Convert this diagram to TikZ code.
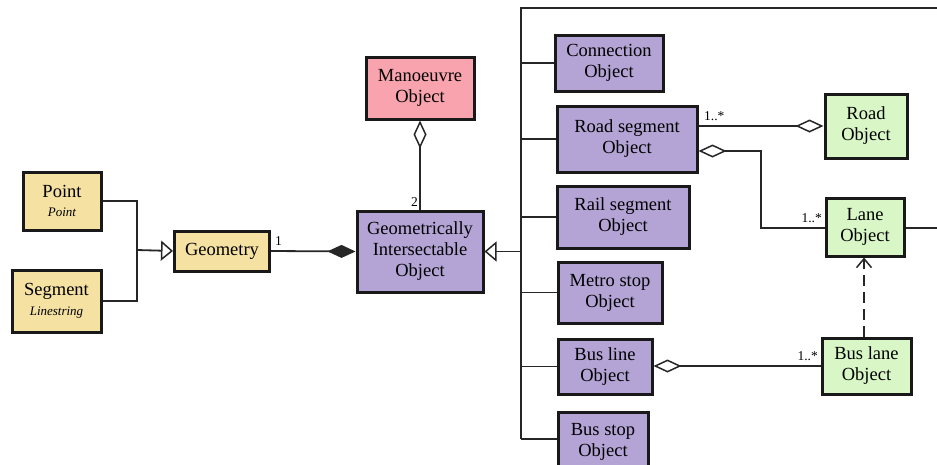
\documentclass[tikz,border=0pt]{standalone}
\usepackage{fontspec}
\setmainfont{Liberation Serif}
\usetikzlibrary{arrows.meta}
\definecolor{cyel}{HTML}{F5E1A2}
\definecolor{cpur}{HTML}{B3A4D5}
\definecolor{cpink}{HTML}{F8A3AD}
\definecolor{cgrn}{HTML}{D9F7C6}
\begin{document}
\begin{tikzpicture}[x=1pt,y=-1pt,
  box/.style={draw=black!90,line width=3pt,align=center,inner sep=0pt,
    font=\fontsize{18.5}{21}\selectfont},
  conn/.style={line width=1.8pt,draw=black!85},
  lbl/.style={font=\fontsize{13.5}{15}\selectfont,inner sep=0pt},
  odia/.style={{Diamond[open,length=28pt,width=13pt,line width=1.5pt]}-},
  fdia/.style={-{Diamond[length=28pt,width=13pt]}},
  otri/.style={-{Triangle[open,length=12pt,width=20pt,line width=1.5pt]}}]
\useasboundingbox (0,0) rectangle (937,464);
% nodes
\node[box,fill=cyel,minimum width=78pt,minimum height=58pt] (point) at (62,201)
  {Point\\[-2pt]{\fontsize{13}{15}\selectfont\itshape Point}};
\node[box,fill=cyel,minimum width=89pt,minimum height=62pt] (segment) at (56.5,301)
  {Segment\\[-1pt]{\fontsize{13}{15}\selectfont\itshape Linestring}};
\node[box,fill=cyel,minimum width=95pt,minimum height=40pt] (geometry) at (222,251) {Geometry};
\node[box,fill=cpur,minimum width=126pt,minimum height=81pt] (gio) at (420,251.5)
  {Geometrically\\Intersectable\\Object};
\node[box,fill=cpink,minimum width=108pt,minimum height=62pt] (man) at (420,88)
  {Manoeuvre\\Object};
\node[box,fill=cpur,minimum width=108pt,minimum height=56pt] (conn) at (609,63)
  {Connection\\Object};
\node[box,fill=cpur,minimum width=140pt,minimum height=66pt] (roadseg) at (627,139)
  {Road segment\\Object};
\node[box,fill=cpur,minimum width=132pt,minimum height=62pt] (railseg) at (623,217)
  {Rail segment\\Object};
\node[box,fill=cpur,minimum width=104pt,minimum height=61pt] (metro) at (610,292.5)
  {Metro stop\\Object};
\node[box,fill=cpur,minimum width=94pt,minimum height=55pt] (busline) at (605,366.5)
  {Bus line\\Object};
\node[box,fill=cpur,minimum width=90pt,minimum height=58pt,anchor=north] (busstop) at (603,411)
  {Bus stop\\Object};
\node[box,fill=cgrn,minimum width=82pt,minimum height=64pt] (road) at (866,126)
  {Road\\Object};
\node[box,fill=cgrn,minimum width=78pt,minimum height=58pt] (lane) at (865,227)
  {Lane\\Object};
\node[box,fill=cgrn,minimum width=89pt,minimum height=56pt] (buslane) at (866.5,366)
  {Bus lane\\Object};
% coordinates
\coordinate (j1) at (137,250);
\coordinate (bt) at (521,8);
\coordinate (bb) at (521,439);
\coordinate (bg) at (521,251.5);
\coordinate (rtop) at (937,8);
\coordinate (lr) at (937,228);
% generalisation Geometry
\draw[conn] (point.east) -| (j1);
\draw[conn] (segment.east) -| (j1);
\draw[conn,otri] (j1) -- (geometry.west);
% composition
\draw[conn,fdia] (geometry.east) -- (gio.west);
\node[lbl,anchor=south west] (l1) at (275,246) {1};
% aggregation manoeuvre
\draw[conn,odia] (man.south) -- (gio.north);
\node[lbl,anchor=south east] (l2) at (418,207) {2};
% bus of specialisations
\draw[conn,otri] (bg) -- (gio.east);
\draw[conn] (rtop) -- (bt) -- (bb);
\draw[conn] (bt |- conn.west) -- (conn.west);
\draw[conn] (bt |- roadseg.west) -- (roadseg.west);
\draw[conn] (bt |- railseg.west) -- (railseg.west);
\draw[conn] (bt |- metro.west) -- (metro.west);
\draw[conn] (bt |- busline.west) -- (busline.west);
\draw[conn] (bb) -- (bb -| busstop.west);
% road segment - road
\draw[conn,-{Diamond[open,length=28pt,width=13pt,line width=1.5pt]}] (roadseg.east |- road.west) -- (road.west);
\node[lbl,anchor=south west] (l3) at (704,121) {1..*};
% road segment - lane
\draw[conn,odia] (roadseg.east |- 0,151) -- (761,151) |- (lane.west |- 0,228);
\node[lbl,anchor=south east] (l4) at (822,223) {1..*};
\draw[conn] (lane.east |- 0,228) -- (lr);
% bus lane realises lane
\draw[conn,dashed,dash pattern=on 11pt off 6pt,-{Straight Barb[length=9pt,width=15pt,line width=1.5pt]}] (buslane.north -| 864,0) -- (lane.south -| 864,0);
% bus line - bus lane
\draw[conn,odia] (busline.east |- 0,366) -- (buslane.west |- 0,366);
\node[lbl,anchor=south east] (l5) at (818,361) {1..*};
\end{tikzpicture}
\end{document}
